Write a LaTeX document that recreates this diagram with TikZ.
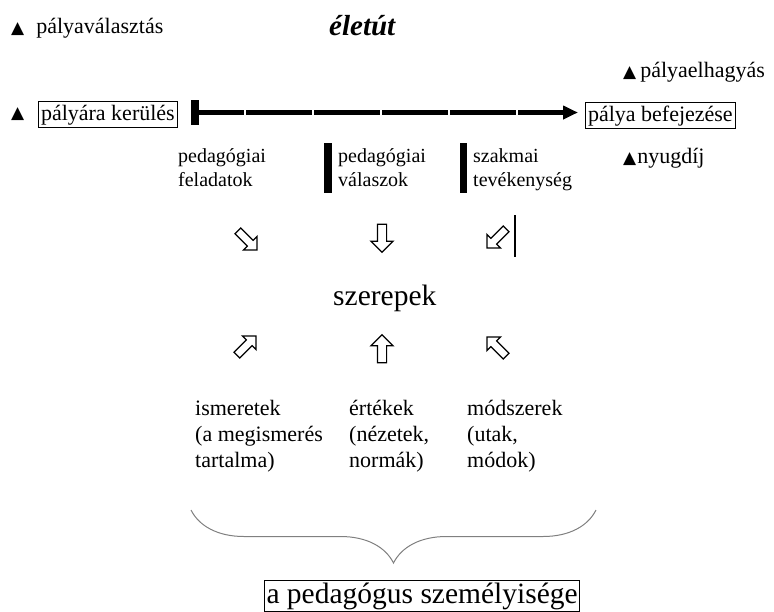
\documentclass[tikz,border=0pt]{standalone}
\usepackage{fontspec}
\setmainfont{Liberation Serif}
\newfontfamily\symfont{DejaVu Sans}
\usetikzlibrary{arrows.meta,shapes.arrows,decorations.pathreplacing}

\newcommand{\uptri}{{\symfont\fontsize{17}{17}\selectfont ▲}}

\tikzset{
  txt/.style={anchor=base west, inner sep=0pt, align=left,
    font=\fontsize{22}{26}\selectfont},
  colhead/.style={txt, font=\fontsize{20}{24}\selectfont},
  bigtxt/.style={txt, font=\fontsize{29.5}{34}\selectfont},
  framed/.style={draw, line width=1pt, inner xsep=2.5pt, inner ysep=3pt,
    text height=16pt, text depth=4pt},
  bar/.style={fill, inner sep=0pt, minimum width=8pt},
  blockarr/.style={single arrow, draw, line width=1.2pt, inner sep=4pt,
    minimum height=28pt, single arrow head extend=6.5pt,
    single arrow tip angle=90},
  diagarr/.style={blockarr, inner sep=3.5pt, minimum height=27pt,
    single arrow head extend=5.5pt},
  timeline/.style={line width=5pt, dash pattern=on 66pt off 2pt,
    dash phase=21pt, shorten >=7pt, -{Triangle[length=15pt,width=13pt]}}
}

\begin{document}
\begin{tikzpicture}[x=1pt,y=1pt]
\useasboundingbox (0,0) rectangle (774,-611);
\clip (0,0) rectangle (774,-611);

% top line
\node (choice) [txt] at (11,-33) {\uptri\hspace{12pt}pályaválasztás};
\node (title) [bigtxt, font=\fontsize{29}{34}\selectfont\bfseries\itshape] at (329,-35) {életút};
\node (leave) [txt] at (623,-77) {\uptri\hspace{4pt}pályaelhagyás};

% the life line
\node (entrymark) [txt] at (11,-118) {\uptri};
\node (pstart) [txt, framed] at (38,-120) {pályára kerülés};
\node (tstart) [bar, minimum height=25pt] at (195,-112.5) {};
\node (pend) [txt, framed] at (585,-121) {pálya befejezése};
\draw [timeline] (tstart.east) -- (tstart.east -| pend.west);

% tasks, answers, work
\node (tasks) [colhead] at (178,-186) {pedagógiai\\feladatok};
\node (bar1) [bar, minimum height=50pt] at (327.5,-168) {};
\node (answers) [colhead] at (338,-186) {pedagógiai\\válaszok};
\node (bar2) [bar, minimum width=7pt, minimum height=50pt] at (463.5,-168) {};
\node (work) [colhead] at (473,-186) {szakmai\\tevékenység};
\node (retire) [txt] at (623,-163) {\uptri\hspace{1pt}nyugdíj};

\node (a1) [diagarr, rotate=-45] at (246,-239) {};
\node (a2) [blockarr, rotate=-90] at (382,-236) {};
\node (a3) [diagarr, rotate=-135] at (498,-237) {};
\draw [line width=2pt] (515,-215) -- (515,-257);

\node (roles) [bigtxt] at (333,-305) {szerepek};

\node (b1) [diagarr, rotate=45] at (245,-347) {};
\node (b2) [blockarr, rotate=90] at (382,-351) {};
\node (b3) [diagarr, rotate=135] at (498,-348) {};

% knowledge, values, methods
\node (know) [txt] at (195,-467) {ismeretek\\(a megismerés\\tartalma)};
\node (values) [txt] at (349,-467) {értékek\\(nézetek,\\normák)};
\node (methods) [txt] at (467,-467) {módszerek\\(utak,\\módok)};

\draw [gray, line width=1pt, decorate, decoration={brace, amplitude=53pt}]
  (596,-510) -- (191,-510);

\node (person) [bigtxt, draw, line width=1pt, inner sep=2pt] at (264,-603) {a pedagógus személyisége};
\end{tikzpicture}
\end{document}
